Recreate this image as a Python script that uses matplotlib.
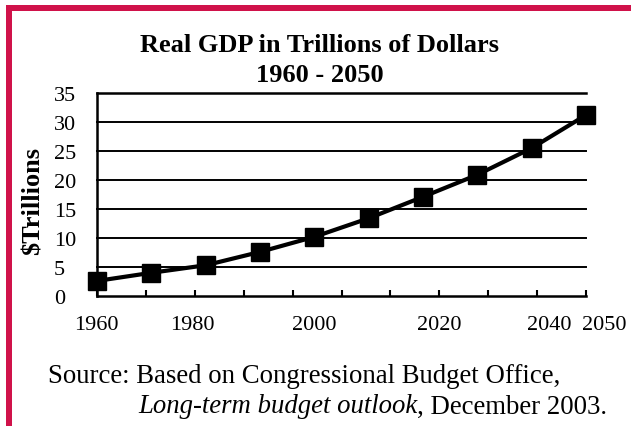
import matplotlib
matplotlib.use("Agg")
import matplotlib.pyplot as plt
import matplotlib.transforms as mtransforms
from matplotlib.patches import Rectangle
import numpy as np

years = [1960, 1970, 1980, 1990, 2000, 2010, 2020, 2030, 2040, 2050]
gdp = [2.6, 4.0, 5.3, 7.6, 10.2, 13.4, 17.1, 20.9, 25.5, 31.2]
yticks = [0, 5, 10, 15, 20, 25, 30, 35]
xlabel_text = ["1960", "1980", "2000", "2020", "2040", "2050"]
xlabel_pos = [1959.8, 1977.5, 2000.0, 2022.9, 2043.2, 2053.3]

W, H = 631, 427
fig = plt.figure(figsize=(W / 100, H / 100), dpi=100)
plt.rcParams['font.family'] = ['Liberation Serif', 'DejaVu Serif']

red = '#D0124A'
fig.patches.append(Rectangle((6 / W, 0), 6 / W, 1 - 6 / H, transform=fig.transFigure,
                             facecolor=red, edgecolor='none'))
fig.patches.append(Rectangle((6 / W, 1 - 12 / H), 1 - 6 / W, 6 / H, transform=fig.transFigure,
                             facecolor=red, edgecolor='none'))

left, right, top, bottom = 97, 586, 94, 297
ax = fig.add_axes([left / W, 1 - bottom / H, (right - left) / W, (bottom - top) / H])
ax.set_xlim(1960, 2050)
ax.set_ylim(0, 35)

for y in yticks[1:]:
    ax.axhline(y, color='black', lw=1.4 if y < 35 else 1.8, zorder=1, clip_on=False)

ax.plot(years, gdp, color='black', lw=3.0, marker='s', markersize=13.5,
        markerfacecolor='black', markeredgecolor='black', zorder=3, clip_on=False)

for s in ['top', 'right']:
    ax.spines[s].set_visible(False)
for s in ['left', 'bottom']:
    ax.spines[s].set_linewidth(1.8)
    ax.spines[s].set_color('black')

ax.set_xticks(np.linspace(1960, 2050, 11))
ax.set_xticklabels([])
ax.tick_params(axis='x', direction='in', length=4, width=1.5, color='black')

ax.set_yticks(yticks)
ax.set_yticklabels([str(v) for v in yticks], fontsize=16, ha='left')
ax.tick_params(axis='y', length=0, pad=31)

trans = mtransforms.blended_transform_factory(ax.transData, fig.transFigure)
for lab, pos in zip(xlabel_text, xlabel_pos):
    ax.text(pos, 1 - 326 / H, lab, transform=trans, ha='center', va='center',
            fontsize=16, clip_on=False)

fig.text(33 / W, 1 - 201 / H, '$Trillions', rotation=90, ha='center', va='center',
         fontsize=19, fontweight='bold')

fig.text(320 / W, 1 - 46 / H, 'Real GDP in Trillions of Dollars', ha='center', va='center',
         fontsize=19, fontweight='bold')
fig.text(320 / W, 1 - 75 / H, '1960 - 2050', ha='center', va='center',
         fontsize=19, fontweight='bold')

fig.text(48 / W, 1 - 377 / H, 'Source: Based on Congressional Budget Office,',
         ha='left', va='center', fontsize=19.3)
t1 = fig.text(138 / W, 1 - 407 / H, 'Long-term budget outlook', ha='left', va='center',
              fontsize=19.3, style='italic')
fig.canvas.draw()
bb = t1.get_window_extent()
fig.text(bb.x1 / W, 1 - 407 / H, ', December 2003.', ha='left', va='center', fontsize=19.3)

fig.savefig('out.png', dpi=100)
